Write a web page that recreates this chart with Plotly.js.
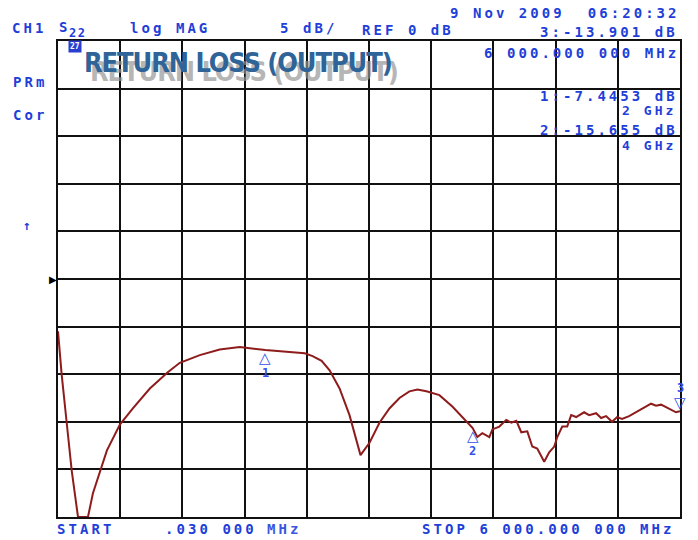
<!DOCTYPE html>
<html>
<head>
<meta charset="utf-8">
<script src="https://cdn.plot.ly/plotly-3.0.1.min.js"></script>
<style>html,body{margin:0;padding:0;background:#fff;}</style>
</head>
<body>
<div id="chart" style="width:698px;height:540px;"></div>
<script>
// Frequency in GHz (sweep .030 MHz to 6 GHz)
var freqGHz = [0.00003,0.036,0.084,0.132,0.193,0.289,0.337,0.405,0.472,0.597,0.722,0.886,1.059,1.175,1.368,1.560,1.753,2.0,2.167,2.379,2.456,2.543,2.620,2.716,2.812,2.918,3.005,3.101,3.197,3.294,3.390,3.467,3.554,3.679,3.804,3.920,4.0,4.045,4.093,4.161,4.190,4.257,4.324,4.373,4.421,4.469,4.527,4.575,4.623,4.690,4.738,4.787,4.816,4.864,4.912,4.950,4.998,5.075,5.124,5.191,5.239,5.287,5.345,5.393,5.441,5.509,5.576,5.634,5.721,5.769,5.817,5.875,5.961,6.0];
// S22 log magnitude, dB
var s22dB = [-5.5,-10.1,-15.1,-20.1,-25,-25,-22.5,-20.1,-18.0,-15.3,-13.6,-11.5,-9.8,-8.8,-8.0,-7.4,-7.15,-7.45,-7.6,-7.8,-8.1,-8.6,-9.6,-11.5,-14.3,-18.5,-17.2,-15.1,-13.6,-12.5,-11.8,-11.6,-11.8,-12.2,-13.4,-14.8,-15.66,-16.6,-16.2,-16.6,-15.8,-15.5,-14.8,-15.1,-14.9,-16.1,-16.0,-17.6,-17.8,-19.2,-18.2,-17.6,-16.6,-15.5,-15.5,-14.3,-14.5,-14.0,-14.3,-14.1,-14.6,-14.4,-15.0,-14.5,-14.7,-14.4,-14.0,-13.6,-13.1,-13.3,-13.2,-13.5,-14.0,-13.9];
// Marker readouts
var markerNames = ["1","2","3"];
var markerFreqGHz = [2, 4, 6];
var markerdB = [-7.4453, -15.655, -13.901];

var W = 698, H = 540, L = 58, R = 680, T = 41, B = 517;
function px(x){ return (x - L) / (R - L); }
function py(y){ return (B - y) / (B - T); }

var blue = '#1f3fd8';
var mono = 'DejaVu Sans Mono, monospace';
var titleFont = 'DejaVu Sans Condensed, DejaVu Sans, sans-serif';
var ann = [];
var spaced = {};   // annotation index -> letter spacing (px)
function txt(s, x, y, opts){
  opts = opts || {};
  var a = {text: s, xref: 'paper', yref: 'paper', x: px(x), y: py(y),
    xanchor: opts.xa || 'left', yanchor: 'middle', showarrow: false,
    font: {family: opts.fam || mono, size: opts.size || 14, color: opts.col || blue}};
  if (opts.bg) a.bgcolor = opts.bg;
  ann.push(a);
  if (opts.ls !== undefined) spaced[ann.length - 1] = opts.ls;
}
var SP = 3.05;
txt('<b>CH1</b>', 10, 28, {ls: SP});
txt('<b>S</b>', 57, 27, {ls: SP});
txt('<b>22</b>', 67, 33, {size: 12, ls: 1.5});
txt('<b>log MAG</b>', 128, 28, {ls: SP});
txt('<b>5 dB/</b>', 278, 28, {ls: SP});
txt('<b>REF 0 dB</b>', 360, 30, {ls: SP});
txt('<b>9 Nov 2009  06:20:32</b>', 448, 13, {ls: SP});
txt('<b>' + markerNames[2] + ':' + markerdB[2].toFixed(3) + ' dB</b>', 538, 32, {ls: SP});
txt('<b>6 000.000 000 MHz</b>', 482, 53, {ls: SP});
txt('<b>' + markerNames[0] + ':' + markerdB[0].toFixed(4) + ' dB</b>', 538, 96, {ls: SP});
txt('<b>' + markerFreqGHz[0] + ' GHz</b>', 620, 110, {ls: SP, size: 13});
txt('<b>' + markerNames[1] + ':' + markerdB[1].toFixed(3) + ' dB</b>', 538, 130, {ls: SP});
txt('<b>' + markerFreqGHz[1] + ' GHz</b>', 620, 145, {ls: SP, size: 13});
txt('<b>PRm</b>', 11, 82, {ls: SP});
txt('<b>Cor</b>', 11, 115, {ls: SP});
txt('<b>↑</b>', 27, 226, {xa: 'center', size: 13});
txt('<b>START</b>', 55, 529, {ls: SP});
txt('<b>.030 000</b>', 163, 529, {ls: SP});
txt('<b>MHz</b>', 265, 529, {ls: SP, col: '#3a55e0'});
txt('<b>STOP 6 000.000 000 MHz</b>', 420, 529, {ls: SP});
txt('▶', 53, 279, {xa: 'center', size: 10, col: '#000', fam: 'DejaVu Sans'});
txt('<b>27</b>', 75, 47, {xa: 'center', size: 8, col: '#fff', bg: '#2a3fd0'});
// title with grey ghost
txt('<b>RETURN LOSS (OUTPUT)</b>', 88, 71, {size: 27, col: 'rgba(150,150,150,0.7)', fam: titleFont, ls: -1.1});
txt('<b>RETURN LOSS (OUTPUT)</b>', 82, 63, {size: 27, col: '#2f6499', fam: titleFont, ls: -1.1});

// marker symbols attached to data points
for (var i = 0; i < markerNames.length; i++) {
  var up = i < 2;
  ann.push({
    text: up ? '△' : '▽',
    x: markerFreqGHz[i], y: markerdB[i], xref: 'x', yref: 'y',
    xanchor: 'center', yanchor: up ? 'top' : 'bottom', showarrow: false,
    font: {family: 'DejaVu Sans', size: 15, color: '#3350e8'}, yshift: up ? 3 : -3
  });
  ann.push({
    text: '<b>' + markerNames[i] + '</b>',
    x: markerFreqGHz[i], y: markerdB[i], xref: 'x', yref: 'y',
    xanchor: 'center', yanchor: up ? 'top' : 'bottom', showarrow: false,
    font: {family: mono, size: 12, color: '#3350e8'}, yshift: up ? -14 : 14
  });
}

var traces = [{
  x: freqGHz, y: s22dB, type: 'scatter', mode: 'lines',
  line: {color: '#8e1c1c', width: 2}, hoverinfo: 'skip', cliponaxis: true
}];

var layout = {
  width: W, height: H,
  margin: {l: L, r: W - R, t: T, b: H - B, pad: 0},
  paper_bgcolor: '#fff', plot_bgcolor: '#fff',
  showlegend: false,
  xaxis: {range: [0, 6], dtick: 0.6, tick0: 0, showgrid: true, gridcolor: '#111', gridwidth: 2,
    showline: true, linecolor: '#111', linewidth: 2, mirror: true, zeroline: false,
    showticklabels: false, ticks: '', fixedrange: true},
  yaxis: {range: [-25, 25], dtick: 5, tick0: 0, showgrid: true, gridcolor: '#111', gridwidth: 2,
    showline: true, linecolor: '#111', linewidth: 2, mirror: true, zeroline: false,
    showticklabels: false, ticks: '', fixedrange: true},
  annotations: ann
};

Plotly.newPlot('chart', traces, layout, {displayModeBar: false, staticPlot: true}).then(function(gd){
  // wide printer-style lettering: add letter spacing, keeping the left edge in place
  var groups = gd.querySelectorAll('g.annotation');
  groups.forEach(function(g){
    var idx = +g.getAttribute('data-index');
    if (spaced.hasOwnProperty(idx)) {
      var t = g.querySelector('text.annotation-text');
      if (!t) return;
      var b0 = t.getBBox();
      t.style.letterSpacing = spaced[idx] + 'px';
      var b1 = t.getBBox();
      var dx = b0.x - b1.x;
      var x0 = parseFloat(t.getAttribute('x')) || 0;
      t.setAttribute('x', x0 + dx);
      t.querySelectorAll('tspan[x]').forEach(function(s){
        s.setAttribute('x', (parseFloat(s.getAttribute('x')) || 0) + dx);
      });
    }
  });
});
</script>
</body>
</html>
